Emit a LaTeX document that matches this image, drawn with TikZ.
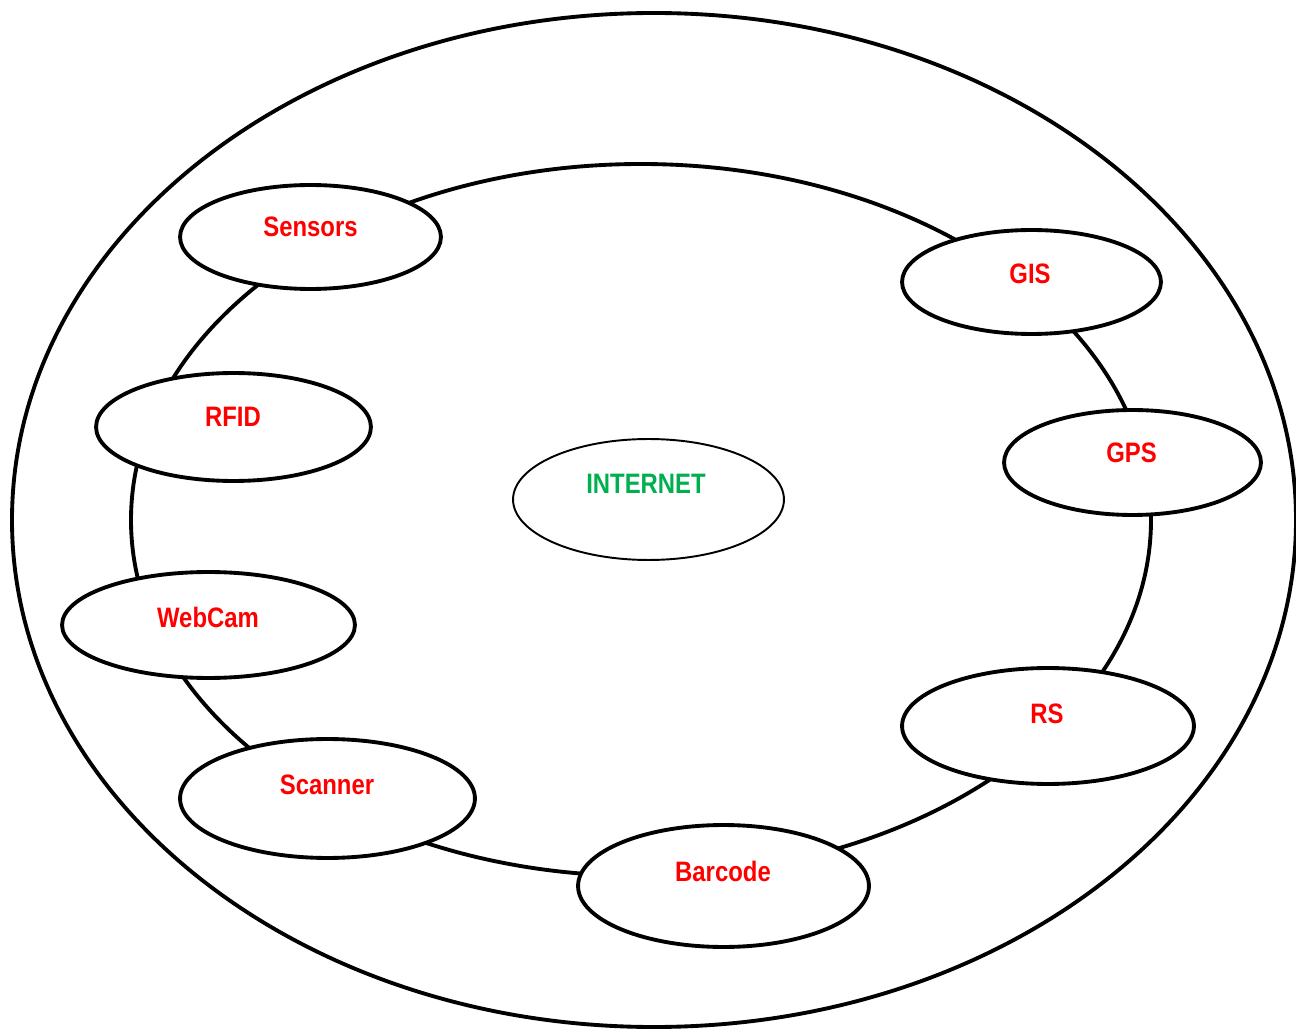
\documentclass[tikz,border=0pt]{standalone}
\usepackage{fontspec}
\newfontfamily\labfont{Liberation Sans}[FakeStretch=0.85]
\usetikzlibrary{shapes.geometric}
\definecolor{labred}{RGB}{255,0,0}
\definecolor{netgreen}{RGB}{0,176,80}
\tikzset{
  sz/.style 2 args={minimum width=#1*0.04cm, minimum height=#2*0.04cm},
  dev/.style={ellipse, draw, line width=2.2pt, fill=white, inner sep=0pt},
  core/.style={ellipse, draw, line width=1.1pt, fill=white, inner sep=0pt},
  lab/.style={font=\labfont\bfseries\fontsize{16}{19}\selectfont, text=labred, inner sep=0pt},
  netlab/.style={lab, text=netgreen},
  ring/.style={line width=2.2pt}
}
\begin{document}
\begin{tikzpicture}[x=0.02cm, y=-0.02cm]
\useasboundingbox (0,0) rectangle (1296,1030);
% outer ellipse
\draw[ring] (654,520) ellipse [x radius=642, y radius=507];
% inner ring
\draw[ring] (641,520) ellipse [x radius=510, y radius=356];
% devices
\node[dev, sz={130.5}{52}] (sensE) at (310.5,237) {};
\node[dev, sz={129.5}{52}] (gisE) at (1031.5,282) {};
\node[dev, sz={137.5}{54}] (rfidE) at (233.5,427) {};
\node[dev, sz={128.5}{52.5}] (gpsE) at (1132.5,462.5) {};
\node[core, sz={135.5}{60.5}] (netE) at (648.5,499.5) {};
\node[dev, sz={146.5}{53}] (camE) at (208.5,625) {};
\node[dev, sz={146}{58}] (rsE) at (1048,726) {};
\node[dev, sz={147.5}{59.5}] (scanE) at (327.5,798.5) {};
\node[dev, sz={145.5}{61}] (barE) at (723.5,886) {};
% labels
\node[lab] (sensL) at (310.5,227) {Sensors};
\node[lab] (gisL) at (1030,274) {GIS};
\node[lab] (rfidL) at (233,417) {RFID};
\node[lab] (gpsL) at (1131.5,453) {GPS};
\node[netlab] (netL) at (646,484) {INTERNET};
\node[lab] (camL) at (208,617) {WebCam};
\node[lab] (rsL) at (1047,714) {RS};
\node[lab] (scanL) at (327,785) {Scanner};
\node[lab] (barL) at (723,871) {Barcode};
\end{tikzpicture}
\end{document}
